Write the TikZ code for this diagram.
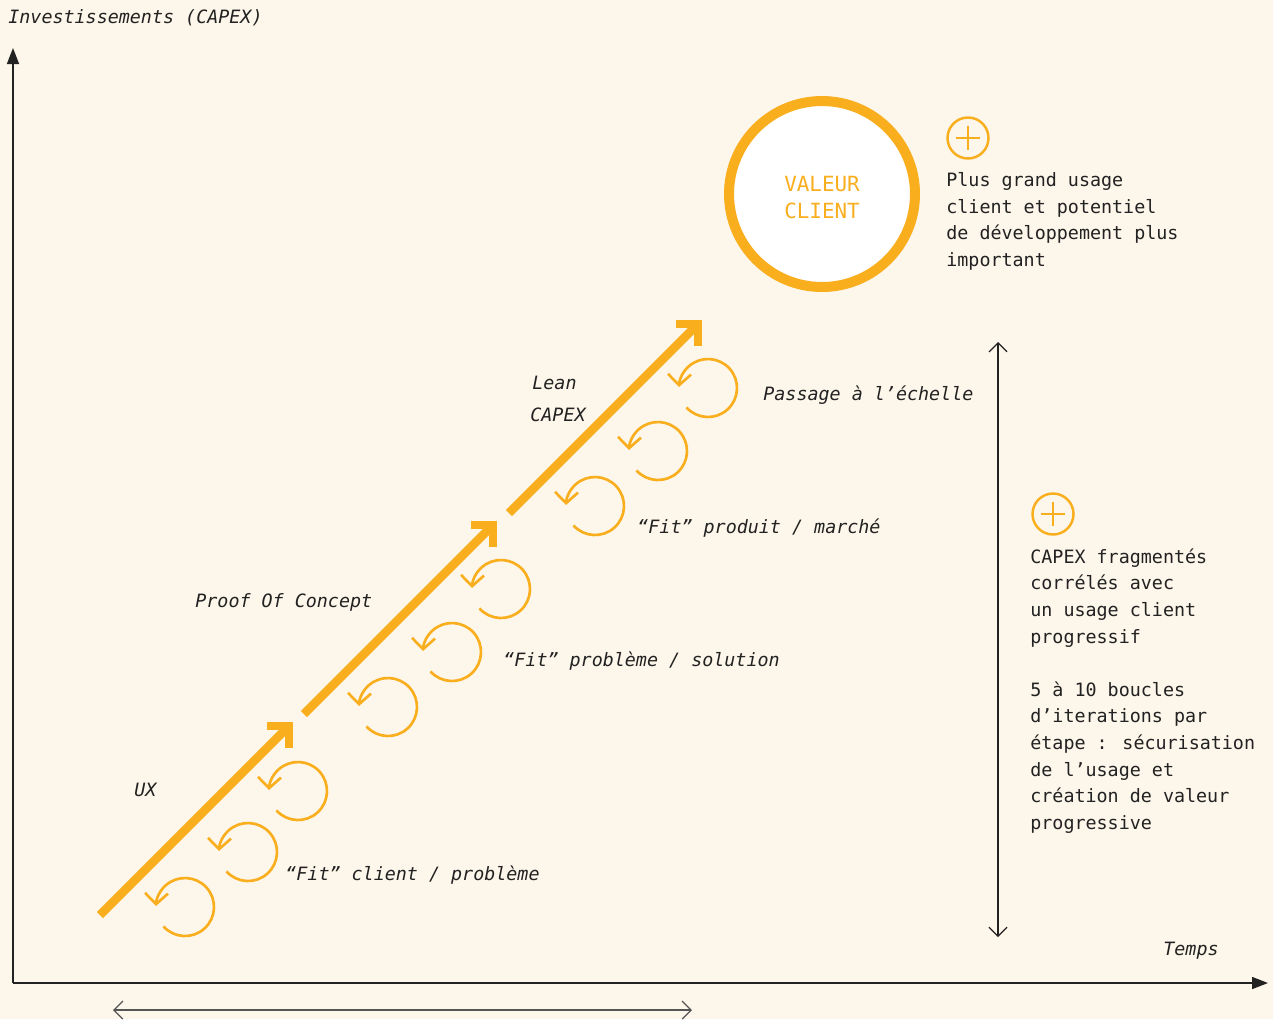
\documentclass[tikz,border=0pt]{standalone}
\usepackage{fontspec}
\setmainfont{DejaVu Sans Mono}[ItalicFont={DejaVu Sans Mono Oblique}]
\usetikzlibrary{arrows.meta}

\definecolor{cream}{HTML}{FDF6EA}
\definecolor{capexorange}{HTML}{F9AE1E}
\definecolor{inkdark}{HTML}{222222}
\definecolor{inkgray}{HTML}{555555}

\newcommand\capexsize{\fontsize{10.45pt}{15.2pt}\selectfont}

\tikzset{
  axisline/.style={draw=inkdark, line width=0.85pt, -{Triangle[length=0.32cm,width=0.24cm]}},
  spanline/.style={line width=0.7pt, {Straight Barb[length=0.18cm,width=0.36cm]}-{Straight Barb[length=0.18cm,width=0.36cm]}},
  fatarrow/.style={draw=capexorange, line width=5pt, line join=miter},
  loopline/.style={draw=capexorange, line width=1.5pt, -{Straight Barb[length=0.22cm,width=0.46cm]}},
  plusicon/.style={circle, draw=capexorange, line width=1.4pt, minimum size=0.82cm, inner sep=0pt},
  lbl/.style={font=\capexsize\itshape, text=inkdark, inner sep=0pt, anchor=base west},
  note/.style={font=\capexsize, text=inkdark, align=left, inner sep=0pt, anchor=north west},
}

\begin{document}
\begin{tikzpicture}[x=0.02cm, y=-0.02cm]
    % Background and frame
    \fill[cream] (0,0) rectangle (1273,1019);
    \useasboundingbox (0,0) rectangle (1273,1019);

    % Axes
    \coordinate (origin) at (13,983);
    \coordinate (ytop) at (13,48);
    \coordinate (xend) at (1268,983);
    \draw[axisline] (origin) -- (ytop);
    \draw[axisline] (origin) -- (xend);
    \node[lbl] (yaxis) at (8,23) {Investissements (CAPEX)};
    \node[lbl] (xaxis) at (1163,955) {Temps};

    % Span arrows
    \coordinate (spanL) at (113,1010);
    \coordinate (spanR) at (692,1010);
    \draw[spanline, draw=inkgray] (spanL) -- (spanR);
    \coordinate (spanT) at (998,342);
    \coordinate (spanB) at (998,937);
    \draw[spanline, draw=inkdark] (spanT) -- (spanB);

    % Staircase of stages
    \foreach \sx/\sy in {100/915, 304/714, 509/513} {
        \draw[fatarrow] (\sx,\sy) -- ++(189,-189);
        \draw[fatarrow] (\sx+167,\sy-189) -- ++(22,0) -- ++(0,22);
    }

    % Iteration loops
    \foreach \cx/\cy in {298/791, 248/852, 185/907, 501/589, 452/652, 388/707, 708/388, 658/451, 595/506} {
        \draw[loopline] (\cx,\cy) ++(138:29) arc[start angle=138, end angle=-178, radius=29];
    }

    % Stage labels
    \node[lbl] (ux) at (134,796) {UX};
    \node[lbl] (poc) at (195,607) {Proof Of Concept};
    \node[lbl] (lean) at (532,389) {Lean};
    \node[lbl] (leancapex) at (530,421) {CAPEX};
    \node[lbl] (fitcp) at (285,880) {“Fit” client / problème};
    \node[lbl] (fitps) at (503,666) {“Fit” problème / solution};
    \node[lbl] (fitpm) at (637,533) {“Fit” produit / marché};
    \node[lbl] (scale) at (763,400) {Passage à l’échelle};

    % Client value
    \node[circle, draw=capexorange, fill=white, line width=0.2cm, minimum size=3.72cm,
          inner sep=0pt] (valeur) at (822,194) {};
    \node[align=center, text=capexorange, inner sep=0pt,
          font=\fontsize{11.9pt}{0.54cm}\selectfont] (valeurtxt) at (822,198) {VALEUR\\CLIENT};

    % Notes with plus icons
    \node[plusicon] (plusA) at (968,138) {};
    \draw[capexorange, line width=1.4pt] (plusA.center) ++(-12,0) -- ++(24,0);
    \draw[capexorange, line width=1.4pt] (plusA.center) ++(0,-12) -- ++(0,24);
    \node[note] (usage) at (946,172) {Plus grand usage\\client et potentiel\\de développement plus\\important};

    \node[plusicon] (plusB) at (1053,514) {};
    \draw[capexorange, line width=1.4pt] (plusB.center) ++(-12,0) -- ++(24,0);
    \draw[capexorange, line width=1.4pt] (plusB.center) ++(0,-12) -- ++(0,24);
    \node[note] (fragments) at (1030,548) {CAPEX fragmentés\\corrélés avec\\un usage client\\progressif};
    \node[note] (boucles) at (1030,681) {5 à 10 boucles\\d’iterations par\\étape : sécurisation\\de l’usage et\\création de valeur\\progressive};
\end{tikzpicture}
\end{document}
